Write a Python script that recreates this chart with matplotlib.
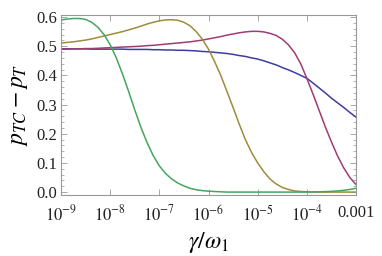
import numpy as np
import matplotlib
matplotlib.use('Agg')
import matplotlib.pyplot as plt
from matplotlib.ticker import FixedLocator, LogLocator, NullFormatter

log_g = [-9.0, -8.875, -8.75, -8.625, -8.5, -8.375, -8.25, -8.125,
         -8.0, -7.875, -7.75, -7.625, -7.5, -7.375, -7.25, -7.125,
         -7.0, -6.875, -6.75, -6.625, -6.5, -6.375, -6.25, -6.125,
         -6.0, -5.875, -5.75, -5.625, -5.5, -5.375, -5.25, -5.125,
         -5.0, -4.875, -4.75, -4.625, -4.5, -4.375, -4.25, -4.125,
         -4.0, -3.875, -3.75, -3.625, -3.5, -3.375, -3.25, -3.125, -3.0]

p_blue = [0.491, 0.491, 0.491, 0.491, 0.491, 0.490, 0.490, 0.490,
          0.490, 0.490, 0.490, 0.489, 0.489, 0.489, 0.489, 0.488,
          0.488, 0.487, 0.487, 0.486, 0.486, 0.485, 0.484, 0.482,
          0.481, 0.479, 0.477, 0.475, 0.472, 0.468, 0.465, 0.460,
          0.456, 0.450, 0.443, 0.436, 0.427, 0.419, 0.410, 0.400,
          0.390, 0.374, 0.357, 0.340, 0.322, 0.306, 0.290, 0.273, 0.257]
p_magenta = [0.490, 0.490, 0.491, 0.491, 0.492, 0.492, 0.493, 0.494,
             0.495, 0.496, 0.497, 0.498, 0.499, 0.500, 0.502, 0.503,
             0.505, 0.507, 0.509, 0.511, 0.513, 0.515, 0.518, 0.521,
             0.525, 0.529, 0.533, 0.538, 0.542, 0.546, 0.549, 0.551,
             0.551, 0.549, 0.544, 0.537, 0.524, 0.505, 0.478, 0.440,
             0.390, 0.336, 0.280, 0.224, 0.172, 0.124, 0.083, 0.050, 0.026]
p_olive = [0.511, 0.513, 0.515, 0.518, 0.521, 0.525, 0.530, 0.535,
           0.540, 0.545, 0.550, 0.556, 0.562, 0.569, 0.576, 0.582,
           0.587, 0.590, 0.591, 0.589, 0.582, 0.570, 0.550, 0.524,
           0.490, 0.447, 0.400, 0.345, 0.290, 0.233, 0.180, 0.136,
           0.100, 0.070, 0.045, 0.028, 0.016, 0.009, 0.004, 0.002,
           0.001, 0.0, 0.0, 0.0, 0.0, 0.0, 0.0, 0.0, 0.0]
p_green = [0.590, 0.593, 0.595, 0.595, 0.592, 0.582, 0.565, 0.540,
           0.505, 0.460, 0.405, 0.345, 0.282, 0.222, 0.170, 0.125,
           0.090, 0.064, 0.045, 0.031, 0.021, 0.013, 0.008, 0.005,
           0.003, 0.002, 0.001, 0.0, 0.0, 0.0, 0.0, 0.0,
           0.0, 0.0, 0.0, 0.0, 0.0, 0.0, 0.0, 0.0,
           0.0, 0.0005, 0.001, 0.0015, 0.0025, 0.004, 0.006, 0.009, 0.013]

x_ticks = [1e-9, 1e-8, 1e-7, 1e-6, 1e-5, 1e-4, 1e-3]
x_labels = [r'$10^{-9}$', r'$10^{-8}$', r'$10^{-7}$', r'$10^{-6}$', r'$10^{-5}$', r'$10^{-4}$', '0.001']
y_ticks = [0.0, 0.1, 0.2, 0.3, 0.4, 0.5, 0.6]

plt.rcParams['font.family'] = ['Liberation Serif', 'DejaVu Serif']
plt.rcParams['mathtext.fontset'] = 'stix'

fig = plt.figure(figsize=(3.82, 2.56), dpi=100)
ax = fig.add_axes([61 / 382, 1 - 195 / 256, 295 / 382, 180 / 256])

g = 10.0 ** np.array(log_g)
ax.plot(g, p_blue, color='#3d3d9e', lw=1.1)
ax.plot(g, p_magenta, color='#9e3d74', lw=1.1)
ax.plot(g, p_olive, color='#9e8c3d', lw=1.1)
ax.plot(g, p_green, color='#45a560', lw=1.1)

ax.set_xscale('log')
ax.set_xlim(1e-9, 1e-3)
ax.set_ylim(-0.01, 0.607)

ax.set_xticks(x_ticks)
ax.set_xticklabels(x_labels)
ax.xaxis.set_minor_locator(LogLocator(base=10, subs=np.arange(2, 10)))
ax.xaxis.set_minor_formatter(NullFormatter())
ax.set_yticks(y_ticks)
ax.set_yticklabels(['%.1f' % v for v in y_ticks])
ax.yaxis.set_minor_locator(FixedLocator(np.arange(0, 0.61, 0.02)))

for s in ax.spines.values():
    s.set_color('#999999')
    s.set_linewidth(0.8)
ax.tick_params(which='both', direction='in', top=True, right=True, color='#999999',
               labelsize=12, labelcolor='#222222')
ax.tick_params(axis='x', pad=7)
ax.tick_params(axis='y', pad=3)
ax.tick_params(which='major', length=4, width=0.6)
ax.tick_params(which='minor', length=2, width=0.5)

ax.set_xlabel(r'$\gamma/\omega_1$', fontsize=17, labelpad=4)
ax.set_ylabel(r'$p_{TC}-p_T$', fontsize=17, labelpad=4)

fig.savefig('out.png', dpi=100)
